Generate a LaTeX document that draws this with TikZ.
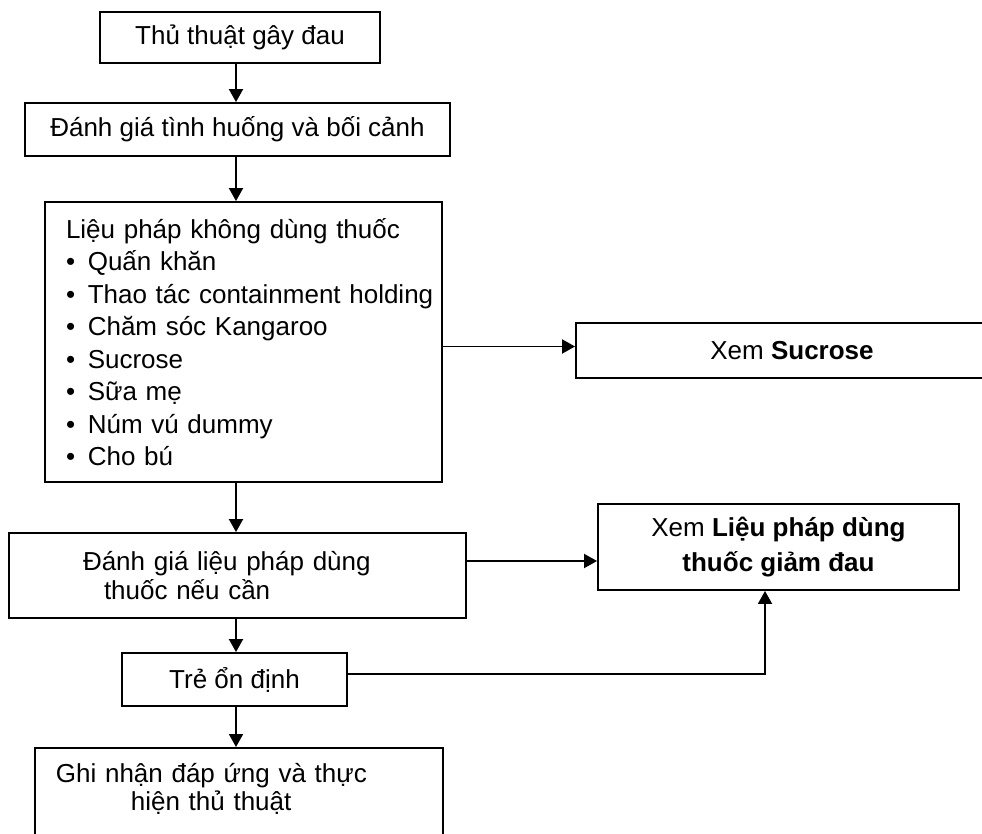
\documentclass[tikz,border=0pt]{standalone}
\usepackage{fontspec}
\setmainfont{Liberation Sans}
\usetikzlibrary{arrows.meta}
\begin{document}
\begin{tikzpicture}[x=1pt,y=-1pt,
  box/.style={draw,line width=1.9pt,rectangle,inner sep=0pt,
    font=\fontsize{26pt}{32.5pt}\selectfont},
  arr/.style={line width=1.9pt,-{Triangle[length=13pt,width=14pt]}}]
\useasboundingbox (0,0) rectangle (982,834);

% main column of steps
\node[box,minimum width=280pt,minimum height=51pt] (b1) at (240,37.5) {Thủ thuật gây đau};
\node[box,minimum width=425pt,minimum height=53pt] (b2) at (237.5,129.5) {Đánh giá tình huống và bối cảnh};
\node[box,text width=393pt,inner xsep=2pt,minimum height=280pt,align=left] (b3) at (243.5,342)
  {\mbox{\hspace*{19pt}Liệu pháp không dùng thuốc}\\
   \mbox{\hspace*{19pt}•\hspace{12.7pt}Quấn khăn}\\
   \mbox{\hspace*{19pt}•\hspace{12.7pt}Thao tác containment holding}\\
   \mbox{\hspace*{19pt}•\hspace{12.7pt}Chăm sóc Kangaroo}\\
   \mbox{\hspace*{19pt}•\hspace{12.7pt}Sucrose}\\
   \mbox{\hspace*{19pt}•\hspace{12.7pt}Sữa mẹ}\\
   \mbox{\hspace*{19pt}•\hspace{12.7pt}Núm vú dummy}\\
   \mbox{\hspace*{19pt}•\hspace{12.7pt}Cho bú}};
\node[box,text width=309pt,inner xsep=74pt,minimum height=85pt,align=left,
  font=\fontsize{26pt}{29pt}\selectfont] (b4) at (237.5,575.5)
  {Đánh giá liệu pháp dùng\\\hspace*{21pt}thuốc nếu cần};
\node[box,minimum width=225pt,minimum height=53pt] (b6) at (234.5,679.5) {Trẻ ổn định};
\node[box,anchor=north west,text width=366pt,inner xsep=21pt,inner ysep=15pt,align=left,
  font=\fontsize{26pt}{28pt}\selectfont] (b7) at (34,747)
  {Ghi nhận đáp ứng và thực\\\hspace*{75pt}hiện thủ thuật\\\mbox{}};

% side references
\node[box,minimum width=432pt,minimum height=55pt] (suc) at (792,350.5) {Xem \textbf{Sucrose}};
\node[box,minimum width=361pt,minimum height=86pt,align=center,
  font=\fontsize{26pt}{35pt}\selectfont] (b5) at (778.5,547)
  {Xem \textbf{Liệu pháp dùng}\\\textbf{thuốc giảm đau}};

% connectors
\coordinate (spine) at (236,0);
\draw[arr] (spine |- b1.south) -- (spine |- b2.north);
\draw[arr] (spine |- b2.south) -- (spine |- b3.north);
\draw[arr] (spine |- b3.south) -- (spine |- b4.north);
\draw[arr] (spine |- b4.south) -- (spine |- b6.north);
\draw[arr] (spine |- b6.south) -- (spine |- b7.north);
\draw[arr] ([yshift=-4.5pt]b3.east) -- ([yshift=-4.5pt]b3.east -| suc.west);
\draw[arr] ([yshift=14.5pt]b4.east) -- ([yshift=14.5pt]b4.east -| b5.west);
\draw[arr] ([yshift=5.5pt]b6.east) -| ([xshift=-13.5pt]b5.south);
\end{tikzpicture}
\end{document}
